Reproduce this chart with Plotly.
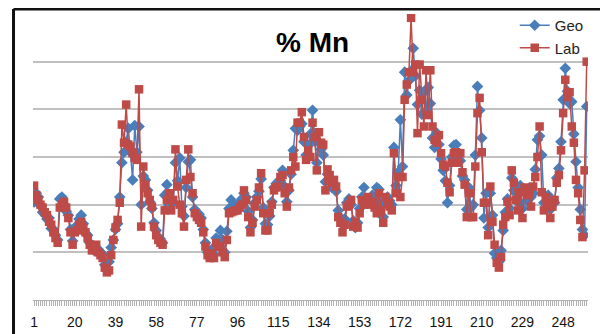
import plotly.graph_objects as go

# Sample index (category axis)
samples = list(range(1, 260))
tick_labels = [1, 20, 39, 58, 77, 96, 115, 134, 153, 172, 191, 210, 229, 248]

geo = [
    10.3, 11.2, 10.8, 9.9, 9.2, 9.0, 8.5, 8.6, 7.5, 7.4,
    6.8, 6.3, 10.6, 10.8, 10.0, 9.3, 8.9, 7.4, 6.2, 7.6,
    7.7, 8.5, 8.9, 8.0, 7.0, 6.8, 6.0, 5.6, 5.2, 5.4,
    5.3, 5.0, 4.8, 3.7, 3.1, 4.0, 5.5, 6.3, 7.4, 8.0,
    10.8, 14.4, 15.5, 16.6, 18.0, 15.5, 12.6, 18.3, 15.5, 18.2,
    10.0, 13.0, 12.6, 11.5, 10.3, 9.6, 8.1, 7.3, 6.5, 6.4,
    6.0, 11.0, 12.1, 10.8, 10.0, 10.2, 14.4, 12.5, 14.9, 9.8,
    8.8, 11.8, 14.5, 14.7, 10.8, 9.5, 8.9, 9.0, 8.6, 7.4,
    6.0, 5.0, 4.9, 5.3, 4.8, 6.5, 6.1, 7.3, 6.3, 5.0,
    7.2, 9.6, 10.5, 9.8, 9.8, 9.6, 10.2, 10.6, 11.2, 10.8,
    9.3, 7.6, 8.4, 10.2, 10.8, 11.4, 12.7, 9.7, 8.0, 7.9,
    8.8, 10.3, 11.8, 12.2, 12.4, 12.5, 13.6, 11.9, 10.3, 11.5,
    13.2, 15.7, 18.0, 17.8, 18.2, 18.5, 16.6, 15.2, 16.2, 17.4,
    19.9, 16.7, 14.4, 16.5, 15.8, 15.2, 12.4, 13.2, 12.8, 11.8,
    12.2, 11.4, 9.4, 8.6, 7.9, 8.5, 10.2, 10.6, 10.0, 8.3,
    7.6, 8.1, 9.6, 10.8, 11.8, 10.6, 10.4, 10.4, 11.0, 10.5,
    11.8, 11.6, 10.0, 8.7, 10.2, 10.8, 10.4, 10.0, 16.0, 12.0,
    13.4, 18.9, 14.0, 23.9, 21.5, 23.0, 24.0, 26.4, 23.5, 20.5,
    22.0, 19.5, 21.8, 19.8, 22.3, 20.6, 17.0, 16.0, 17.5, 16.3,
    14.8, 13.6, 12.5, 10.2, 12.0, 15.0, 16.2, 16.3, 15.1, 14.6,
    13.0, 12.6, 9.5, 11.8, 9.7, 10.0, 15.2, 22.4, 19.9, 17.0,
    8.6, 11.2, 7.6, 11.2, 8.9, 4.9, 4.4, 4.0, 5.2, 7.3,
    9.2, 10.6, 9.6, 12.8, 11.5, 11.2, 10.2, 12.0, 9.6, 11.4,
    10.4, 11.7, 10.8, 11.2, 13.7, 16.8, 17.2, 15.2, 10.2, 10.3,
    11.0, 9.5, 10.3, 10.2, 12.8, 13.8, 16.6, 21.0, 24.3, 21.9,
    20.6, 20.8, 17.4, 14.5, 11.8, 9.5, 7.4, 6.8, 20.3,
]

lab = [
    12.0, 11.0, 10.5, 10.0, 9.7, 9.2, 8.9, 8.2, 7.9, 7.1,
    6.5, 6.0, 9.7, 10.0, 10.3, 9.7, 8.6, 7.1, 5.8, 7.1,
    7.3, 7.9, 8.2, 7.6, 7.1, 6.5, 5.8, 5.2, 5.5, 5.8,
    5.0, 4.7, 4.4, 3.4, 2.9, 3.1, 4.7, 6.3, 7.6, 8.4,
    10.2, 18.4, 16.5, 20.5, 16.3, 16.1, 15.4, 14.9, 14.7, 22.1,
    7.7, 14.0, 12.1, 11.2, 10.5, 9.8, 7.7, 6.8, 6.3, 6.0,
    5.8, 9.4, 10.5, 11.2, 9.4, 10.5, 15.8, 11.9, 10.0, 9.1,
    7.7, 12.6, 15.8, 12.9, 11.2, 9.1, 8.7, 8.4, 8.1, 7.1,
    5.6, 4.7, 4.4, 4.9, 4.4, 6.0, 5.6, 5.6, 5.0, 4.5,
    6.3, 9.1, 9.2, 9.3, 9.4, 9.4, 9.7, 10.0, 11.5, 10.5,
    8.7, 7.1, 8.1, 9.8, 10.5, 11.8, 13.3, 9.1, 7.3, 7.3,
    9.1, 10.0, 11.5, 11.8, 11.9, 12.9, 13.1, 11.2, 9.8, 11.8,
    13.6, 15.0, 14.0, 18.6, 18.6, 19.7, 17.1, 14.7, 15.7, 15.0,
    18.6, 17.1, 13.6, 17.6, 16.5, 16.3, 11.5, 13.7, 13.1, 12.3,
    12.6, 11.9, 8.7, 8.1, 7.1, 7.9, 9.8, 10.0, 10.5, 7.7,
    8.2, 7.6, 9.1, 10.5, 10.0, 10.2, 10.8, 10.0, 10.3, 9.7,
    9.1, 11.2, 9.4, 8.1, 10.8, 10.2, 9.8, 9.4, 15.4, 11.2,
    12.9, 10.8, 12.9, 21.0, 22.6, 23.9, 29.6, 23.9, 24.7, 17.5,
    24.7, 21.0, 18.2, 24.1, 19.4, 24.1, 18.2, 16.8, 16.5, 17.3,
    15.4, 14.2, 14.0, 12.3, 11.3, 14.4, 15.4, 15.5, 14.4, 15.4,
    13.4, 12.1, 8.7, 11.2, 8.7, 8.7, 14.0, 19.6, 21.2, 15.5,
    10.2, 10.2, 6.8, 11.9, 8.2, 5.8, 3.9, 3.4, 4.5, 7.9,
    8.7, 10.3, 8.9, 13.6, 12.3, 10.5, 9.4, 11.3, 8.6, 11.8,
    11.0, 11.2, 9.8, 11.9, 12.9, 15.0, 18.2, 11.3, 9.4, 10.8,
    10.2, 8.6, 9.8, 10.5, 12.3, 13.1, 15.7, 19.6, 23.1, 21.3,
    21.8, 18.2, 16.5, 12.6, 11.2, 8.4, 6.6, 13.6, 25.0,
]

BLUE = "#4a7ebb"
RED = "#be4b48"
FONT = "Liberation Sans, Arial, sans-serif"

fig = go.Figure()
fig.add_trace(go.Scatter(
    x=samples, y=geo, name="Geo", mode="lines+markers",
    line=dict(color=BLUE, width=1.5),
    marker=dict(symbol="diamond", size=9, color=BLUE),
))
fig.add_trace(go.Scatter(
    x=samples, y=lab, name="Lab", mode="lines+markers",
    line=dict(color=RED, width=1.5),
    marker=dict(symbol="square", size=8.5, color=RED),
))

# The page body has an 8px margin, so the figure is drawn 8px smaller
# and all positions are expressed relative to that offset.
fig.update_layout(
    width=600, height=326,
    margin=dict(l=25, r=20, t=6, b=34, autoexpand=False),
    paper_bgcolor="white", plot_bgcolor="white",
    font=dict(family=FONT, color="#000000"),
    showlegend=True,
    legend=dict(
        x=0.868, y=1.0175, xanchor="left", yanchor="top",
        bgcolor="rgba(0,0,0,0)", font=dict(size=15, family=FONT, color="#222"),
        tracegroupgap=0, itemwidth=30,
    ),
    xaxis=dict(
        range=[0.5, 259.6], tickmode="array", tickvals=tick_labels,
        ticktext=[str(t) for t in tick_labels],
        showgrid=False, zeroline=False, automargin=False,
        showline=True, linecolor="#b0b0b0", linewidth=1,
        ticks="outside", ticklen=5, tickcolor="#b0b0b0",
        tickfont=dict(size=14, family=FONT, color="#111"),
        minor=dict(tickmode="linear", tick0=1, dtick=1, ticks="outside",
                   ticklen=5, tickcolor="#b0b0b0", showgrid=False),
        ticklabelstandoff=4,
    ),
    yaxis=dict(
        range=[0, 30], dtick=5, showticklabels=False, automargin=False,
        showgrid=True, gridcolor="#c0c0c0", gridwidth=1.5,
        zeroline=False, showline=False, ticks="",
    ),
    annotations=[dict(
        text="<b>% Mn</b>", xref="paper", yref="paper",
        x=0.5045, y=0.899, xanchor="center", yanchor="middle",
        showarrow=False, font=dict(size=28, family=FONT, color="#000"),
    )],
    shapes=[
        dict(type="line", xref="paper", yref="paper",
             x0=-0.0351, x1=1.05, y0=1.0175, y1=1.0175,
             line=dict(color="#111", width=3)),
        dict(type="line", xref="paper", yref="paper",
             x0=-0.0351, x1=-0.0351, y0=1.0175, y1=-0.2,
             line=dict(color="#111", width=3)),
    ],
)

fig.write_html("out.html")
